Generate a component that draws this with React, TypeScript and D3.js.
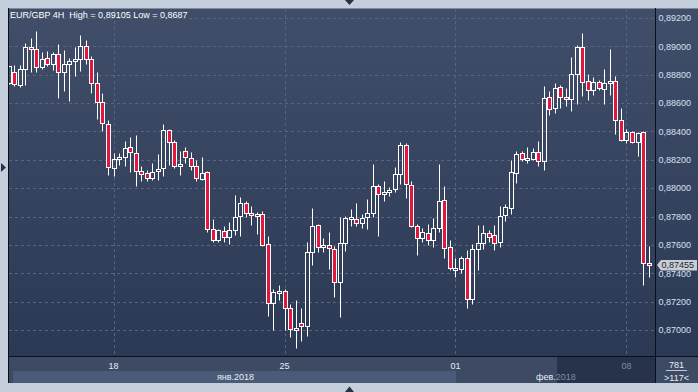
import React from "react";
import * as d3 from "d3";

const opens = [0.88741,0.88816,0.88725,0.88840,0.88993,0.88981,0.88854,0.88918,0.88875,0.88946,0.88817,0.88875,0.88894,0.88911,0.89000,0.88911,0.88742,0.88608,0.88452,0.88142,0.88206,0.88220,0.88290,0.88248,0.88119,0.88105,0.88072,0.88119,0.88142,0.88408,0.88326,0.88153,0.88261,0.88212,0.88158,0.88066,0.88113,0.87711,0.87636,0.87697,0.87653,0.87702,0.87801,0.87895,0.87824,0.87810,0.87817,0.87606,0.87190,0.87265,0.87272,0.87155,0.87006,0.87049,0.87025,0.87549,0.87740,0.87590,0.87599,0.87573,0.87338,0.87615,0.87791,0.87784,0.87756,0.87796,0.87826,0.88012,0.87960,0.87974,0.87993,0.88101,0.88306,0.88019,0.87732,0.87650,0.87685,0.87636,0.87718,0.87918,0.87584,0.87432,0.87432,0.87509,0.87220,0.87573,0.87615,0.87685,0.87667,0.87621,0.87809,0.87860,0.88107,0.88248,0.88206,0.88206,0.88255,0.88189,0.88643,0.88565,0.88713,0.88643,0.88631,0.88805,0.88995,0.88753,0.88690,0.88749,0.88699,0.88742,0.88753,0.88478,0.88337,0.88396,0.88326,0.88396,0.87473];
const highs = [0.88865,0.88871,0.88866,0.89024,0.89059,0.89105,0.88960,0.88965,0.88960,0.89016,0.88977,0.88918,0.88993,0.89082,0.89047,0.88934,0.88819,0.88671,0.88481,0.88248,0.88248,0.88330,0.88361,0.88377,0.88154,0.88131,0.88178,0.88243,0.88455,0.88420,0.88342,0.88264,0.88287,0.88254,0.88200,0.88219,0.88123,0.87784,0.87711,0.87730,0.87761,0.87954,0.87937,0.87907,0.87876,0.87829,0.87841,0.87664,0.87291,0.87319,0.87289,0.87183,0.87213,0.87155,0.87620,0.87860,0.87747,0.87648,0.87690,0.87594,0.87800,0.87805,0.87850,0.87895,0.87819,0.87925,0.88167,0.88031,0.88054,0.88007,0.88148,0.88329,0.88318,0.88054,0.87749,0.87721,0.87749,0.87791,0.88167,0.88012,0.87636,0.87509,0.87519,0.87561,0.87608,0.87737,0.87737,0.87702,0.87742,0.87872,0.87891,0.88196,0.88260,0.88260,0.88290,0.88283,0.88330,0.88723,0.88687,0.88742,0.88730,0.88706,0.88925,0.89012,0.89095,0.88805,0.88784,0.88765,0.88843,0.88984,0.88793,0.88565,0.88417,0.88405,0.88396,0.88401,0.87590];
const lows = [0.88735,0.88718,0.88716,0.88725,0.88817,0.88817,0.88840,0.88859,0.88836,0.88636,0.88683,0.88617,0.88789,0.88824,0.88875,0.88671,0.88490,0.88405,0.88091,0.88084,0.88166,0.88154,0.88114,0.88013,0.88053,0.88048,0.88055,0.88060,0.88084,0.88166,0.88142,0.88090,0.88177,0.88130,0.88048,0.88059,0.87688,0.87617,0.87617,0.87617,0.87608,0.87672,0.87660,0.87796,0.87742,0.87679,0.87594,0.87100,0.87000,0.87213,0.86997,0.86953,0.86870,0.86925,0.86960,0.87460,0.87547,0.87547,0.87429,0.87235,0.87091,0.87556,0.87730,0.87730,0.87718,0.87709,0.87800,0.87660,0.87913,0.87944,0.87972,0.88031,0.87932,0.87725,0.87526,0.87624,0.87596,0.87584,0.87690,0.87507,0.87420,0.87373,0.87401,0.87157,0.87185,0.87425,0.87573,0.87620,0.87561,0.87583,0.87771,0.87818,0.88037,0.88189,0.88178,0.88201,0.88154,0.88131,0.88514,0.88530,0.88565,0.88577,0.88546,0.88596,0.88648,0.88624,0.88659,0.88690,0.88596,0.88659,0.88384,0.88330,0.88319,0.88319,0.88225,0.87315,0.87374];
const closes = [0.88859,0.88734,0.88840,0.88993,0.88981,0.88854,0.88911,0.88875,0.88946,0.88817,0.88875,0.88894,0.88911,0.89000,0.88911,0.88742,0.88608,0.88460,0.88149,0.88206,0.88220,0.88283,0.88255,0.88119,0.88100,0.88072,0.88114,0.88135,0.88408,0.88326,0.88156,0.88170,0.88219,0.88153,0.88071,0.88106,0.87711,0.87632,0.87702,0.87653,0.87707,0.87796,0.87895,0.87824,0.87810,0.87817,0.87601,0.87190,0.87267,0.87272,0.87155,0.87006,0.87013,0.87030,0.87549,0.87735,0.87585,0.87598,0.87580,0.87338,0.87615,0.87791,0.87798,0.87756,0.87791,0.87826,0.88012,0.87960,0.87974,0.87988,0.88097,0.88301,0.88026,0.87732,0.87650,0.87692,0.87636,0.87718,0.87911,0.87580,0.87439,0.87439,0.87509,0.87220,0.87573,0.87615,0.87685,0.87655,0.87615,0.87806,0.87865,0.88112,0.88241,0.88206,0.88213,0.88255,0.88194,0.88636,0.88558,0.88706,0.88643,0.88631,0.88805,0.88995,0.88749,0.88690,0.88749,0.88706,0.88742,0.88753,0.88478,0.88337,0.88396,0.88326,0.88389,0.87473,0.87455];

const yTicks = [0.870,0.872,0.874,0.876,0.878,0.880,0.882,0.884,0.886,0.888,0.890,0.892];
const dateTickIndex = [19, 50, 81, 112];
const dateTickLabels = ["18", "25", "01", "08"];
const headerText = "EUR/GBP 4H  High = 0,89105 Low = 0,8687";
const lastPrice = 0.87455;
const barCountLabel = "781";
const visibleLabel = ">117<";

const W = 698, H = 392;
const PL = 8, PR = 655, PT = 8, PB = 356, AB = 383;
const FONT = "'Liberation Sans', Arial, sans-serif";
const RED = "#e3163d";

const fmt = (v: number) => v.toFixed(5).replace(".", ",");

export default function App() {
  const n = opens.length;
  const x = d3.scaleLinear().domain([0, n - 1]).range([8.7, 8.7 + (n - 1) * 5.516]);
  const y = d3.scaleLinear().domain([0.870, 0.892]).range([330, 18]);
  const py = (v: number) => Math.round(y(v)) + 0.5;

  const candles = d3.range(n).map((i) => {
    const o = opens[i], c = closes[i], h = highs[i], l = lows[i];
    const cx = Math.round(x(i)) + 0.5;
    const top = py(Math.max(o, c));
    let bot = py(Math.min(o, c));
    if (bot - top < 2) bot = top + 2;
    const bear = c < o;
    return (
      <g key={i}>
        <line x1={cx} x2={cx} y1={py(h)} y2={top} stroke="#fff" strokeWidth={1} />
        <line x1={cx} x2={cx} y1={bot} y2={py(l)} stroke="#fff" strokeWidth={1} />
        <rect x={cx - 2} y={top} width={4} height={bot - top} fill={bear ? RED : "none"} stroke="#fff" strokeWidth={1} />
      </g>
    );
  });

  const lpY = Math.round(y(lastPrice));

  return (
    <div style={{ position: "fixed", left: 0, top: 0 }}>
      <svg width={W} height={H} style={{ display: "block" }} fontFamily={FONT}>
        <defs>
          <linearGradient id="bg" x1="0" y1={PT} x2="0" y2={PB} gradientUnits="userSpaceOnUse">
            <stop offset="0" stopColor="#404e69" />
            <stop offset="1" stopColor="#2c3954" />
          </linearGradient>
          <clipPath id="plot">
            <rect x={PL + 1} y={PT} width={PR - PL - 1} height={PB - PT} />
          </clipPath>
        </defs>
        <rect x={0} y={0} width={W} height={H} fill="#c5cfdb" />
        <rect x={PL} y={PT} width={W - PL} height={PB - PT} fill="url(#bg)" />
        <line x1={PL} x2={W} y1={PT + 0.5} y2={PT + 0.5} stroke="#7d8aa0" />
        {/* bottom axis area */}
        <rect x={PL} y={PB} width={W - PL} height={AB - PB} fill="#3d4a64" />
        <rect x={13} y={371} width={456 - 13} height={AB - 371} fill="#4b5a76" />
        <rect x={557} y={PB} width={PR - 557} height={AB - PB} fill="#27324b" />
        {/* grid */}
        <g stroke="#56667f" strokeDasharray="3,3" strokeWidth={1}>
          {yTicks.map((t) => (
            <line key={t} x1={PL + 1} x2={PR} y1={py(t)} y2={py(t)} />
          ))}
          {dateTickIndex.map((i) => (
            <line key={i} x1={Math.round(x(i)) + 0.5} x2={Math.round(x(i)) + 0.5} y1={PT + 1} y2={PB} />
          ))}
        </g>
        <g clipPath="url(#plot)">{candles}</g>
        {/* frame lines */}
        <line x1={PL + 0.5} x2={PL + 0.5} y1={PT} y2={AB} stroke="#0b0f18" />
        <line x1={PR + 0.5} x2={PR + 0.5} y1={PT} y2={AB} stroke="#0b0f18" />
        <line x1={PL} x2={W} y1={PB + 0.5} y2={PB + 0.5} stroke="#0b0f18" />
        {/* header */}
        <text x={10} y={18} fontSize={9} fill="#ffffff" style={{ whiteSpace: "pre" }}>{headerText}</text>
        {/* y labels */}
        {yTicks.map((t) => (
          <text key={t} x={658.5} y={y(t) + 3.3} fontSize={9} fill="#d6e0f0">{fmt(t)}</text>
        ))}
        {/* last price marker */}
        <path d={`M657,${lpY} L661,${lpY - 5} L697,${lpY - 5} L697,${lpY + 5.5} L661,${lpY + 5.5} Z`} fill="#c9ced6" />
        <text x={661.5} y={lpY + 3.3} fontSize={9} fill="#1c2333">{fmt(lastPrice)}</text>
        {/* date labels */}
        {dateTickIndex.map((i, k) => (
          <text key={i} x={x(i)} y={369} fontSize={9} textAnchor="middle" fill={x(i) > 557 ? "#7f8ca3" : "#e6edf7"}>{dateTickLabels[k]}</text>
        ))}
        <text x={235.5} y={380} fontSize={9} textAnchor="middle" fill="#e6edf7">янв.2018</text>
        <text x={536} y={380} fontSize={9}>
          <tspan fill="#e6edf7">фев.</tspan>
          <tspan fill="#7f8ca3">2018</tspan>
        </text>
        {/* right-bottom box */}
        <text x={676.5} y={368} fontSize={9} textAnchor="middle" fill="#e6edf7">{barCountLabel}</text>
        <line x1={666} x2={687} y1={370.5} y2={370.5} stroke="#c0c8d6" />
        <text x={676.5} y={381} fontSize={9} textAnchor="middle" fill="#e6edf7">{visibleLabel}</text>
        {/* triangles */}
        <path d="M345,0 L354,0 L349.5,5 Z" fill="#26304a" />
        <path d="M345,392 L354,392 L349.5,386.5 Z" fill="#26304a" />
        <path d="M1,163 L1,172 L6,167.5 Z" fill="#26304a" />
      </svg>
    </div>
  );
}
